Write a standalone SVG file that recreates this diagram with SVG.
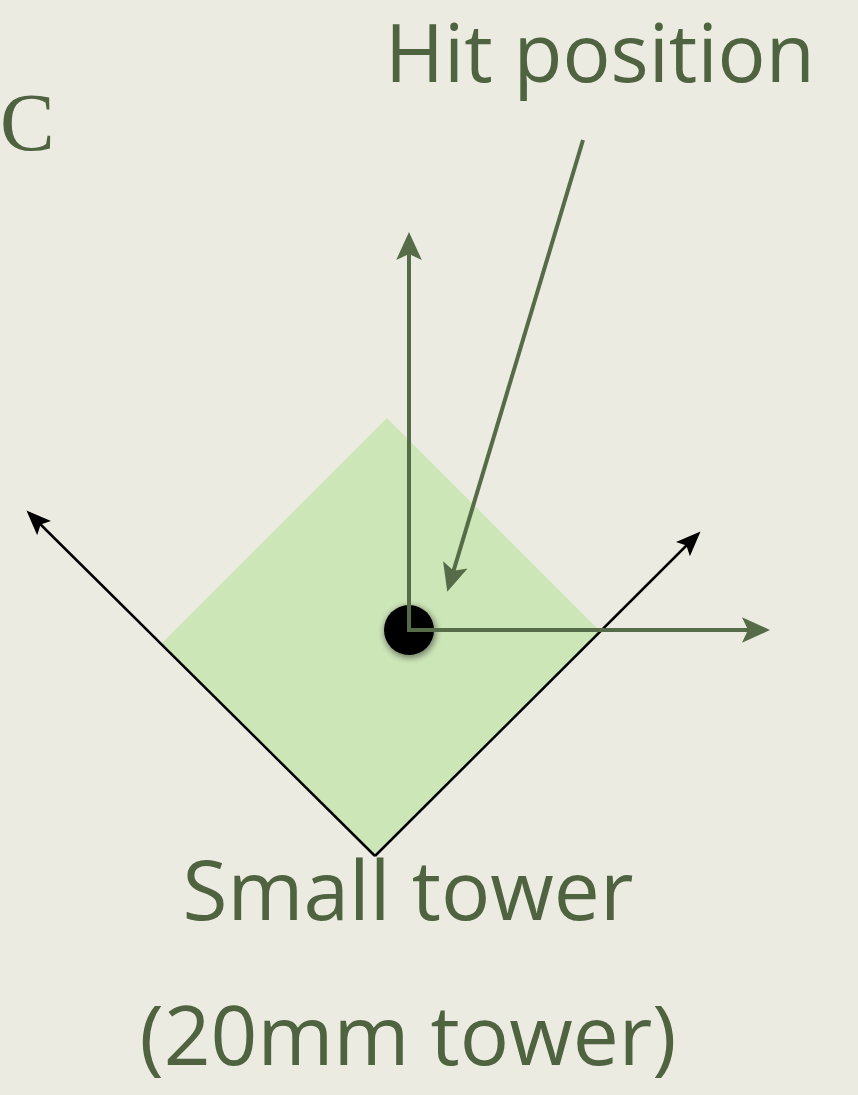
<svg xmlns="http://www.w3.org/2000/svg" width="858" height="1095" viewBox="0 0 858 1095">
<style>
.lbl{font-family:"Open Sans","Liberation Sans",sans-serif;font-size:82px;fill:#4f6340}
.top{font-size:80px}
.serif{font-family:"Liberation Serif","Times New Roman",serif;font-size:82px;fill:#4f6340}
.g{stroke:#566b48;stroke-width:4;fill:none}
.k{stroke:#000;stroke-width:2.5;fill:none}
</style>
<defs>
<marker id="ag" markerWidth="7" markerHeight="7" refX="5.5" refY="3.5" orient="auto" markerUnits="strokeWidth"><path d="M0,0.3 L7,3.5 L0,6.7 L1.5,3.5 Z" fill="#566b48"/></marker>
<marker id="ak" markerWidth="10" markerHeight="8" refX="8" refY="4" orient="auto" markerUnits="strokeWidth"><path d="M0,0 L10,4 L0,8 L2,4 Z" fill="#000"/></marker>
<filter id="sh" x="-50%" y="-50%" width="200%" height="200%"><feGaussianBlur stdDeviation="3"/></filter>
</defs>
<rect width="858" height="1095" fill="#ecebe1"/>
<text class="serif" x="0" y="150">C</text>
<text class="lbl top" x="385" y="82">Hit position</text>
<g id="tower">
<polygon points="387,418 600,631 375,856 162,643" fill="#cde6b8"/>
</g>
<g id="connectors">
<line class="k" x1="375" y1="856" x2="30" y2="514" marker-end="url(#ak)"/>
<line class="k" x1="375" y1="856" x2="697" y2="535" marker-end="url(#ak)"/>
<circle cx="410" cy="632" r="26" fill="#000" opacity="0.45" filter="url(#sh)"/>
<circle id="hit" cx="409" cy="630" r="25" fill="#000"/>
<line class="g" x1="409" y1="632" x2="409" y2="238" marker-end="url(#ag)"/>
<line class="g" x1="407" y1="630" x2="764" y2="630" marker-end="url(#ag)"/>
<line class="g" x1="583" y1="140" x2="449" y2="586" marker-end="url(#ag)"/>
</g>
<text class="lbl" x="408" y="920" text-anchor="middle">Small tower</text>
<text class="lbl" x="408" y="1065" text-anchor="middle">(20mm tower)</text>
</svg>
